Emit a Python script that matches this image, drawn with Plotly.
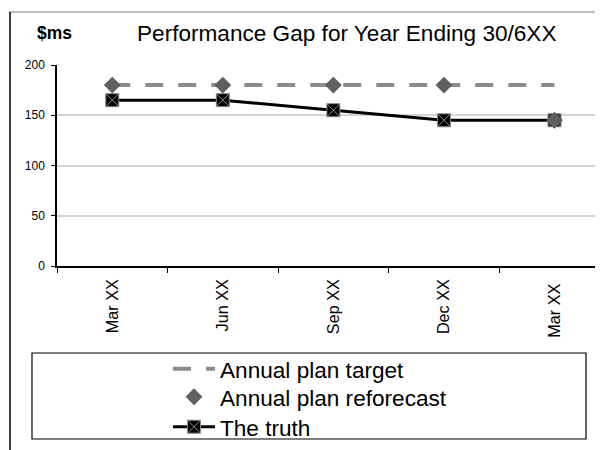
import plotly.graph_objects as go

categories = ["Mar XX", "Jun XX", "Sep XX", "Dec XX", "Mar XX "]
target = [180, 180, 180, 180, 180]
reforecast = [180, 180, 180, 180, 145]
truth = [165, 165, 155, 145, 145]
y_ticks = [0, 50, 100, 150, 200]

FONT = "Liberation Sans, Arial, sans-serif"
xs = list(range(len(categories)))

# page body has an 8px margin: figure is drawn at (8, 8) in the window
OFF = 8
FW, FH = 603 - OFF, 450 - OFF
# plot area in window pixels
L, R, T, B = 57, 603, 65, 266
W, H = R - L, B - T
def px(x):
    return (x - L) / W
def py(y):
    return (B - y) / H

fig = go.Figure()
fig.add_trace(go.Scatter(
    x=xs, y=target, name="Annual plan target", mode="lines",
    line=dict(color="#8c8c8c", width=4, dash="18px,15px"), legend="legend",
))
fig.add_trace(go.Scatter(
    x=xs, y=truth, name="The truth", mode="lines+markers",
    line=dict(color="black", width=3),
    marker=dict(symbol="square-x", size=13, color="black",
                line=dict(color="#8a8a8a", width=1)), legend="legend3",
))
fig.add_trace(go.Scatter(
    x=xs, y=reforecast, name="Annual plan reforecast", mode="markers",
    marker=dict(symbol="diamond", size=13, color="#606060",
                line=dict(width=0)), legend="legend2",
))

LEG_X = 168
def leg(yc):
    return dict(
        x=px(LEG_X), xanchor="left", y=py(yc), yanchor="middle",
        font=dict(size=22.6, family=FONT, color="black"),
        bgcolor="rgba(0,0,0,0)", borderwidth=0, itemwidth=42,
    )

fig.update_layout(
    width=FW, height=FH,
    margin=dict(l=L - OFF, r=FW - (R - OFF), t=T - OFF, b=FH - (B - OFF),
                pad=0, autoexpand=False),
    paper_bgcolor="white", plot_bgcolor="white",
    font=dict(family=FONT, color="black"),
    showlegend=True,
    legend=leg(369), legend2=leg(397), legend3=leg(427),
    xaxis=dict(
        range=[-0.5, (R - 112.5) / 110.5],
        tickvals=xs, ticktext=categories, tickangle=-90,
        ticks="", showgrid=False, zeroline=False,
        showline=True, linecolor="black", linewidth=1.5,
        tickfont=dict(size=16.2, family=FONT, color="black"),
        ticklabelstandoff=5,
        minor=dict(tickvals=[-0.5, 0.5, 1.5, 2.5, 3.5], ticks="outside",
                   ticklen=5, tickcolor="black", tickwidth=1, showgrid=False),
        fixedrange=True,
    ),
    yaxis=dict(
        range=[0, 200], tickvals=y_ticks,
        ticks="outside", ticklen=4, tickcolor="black",
        showgrid=True, gridcolor="#d4d4d4", gridwidth=1.5,
        zeroline=False, showline=True, linecolor="black", linewidth=1.5,
        tickfont=dict(size=12, family=FONT, color="black"),
        ticklabelstandoff=4,
        fixedrange=True,
    ),
    annotations=[
        dict(text="Performance Gap for Year Ending 30/6XX", xref="paper", yref="paper",
             x=px(347), y=py(33), xanchor="center", yanchor="middle", showarrow=False,
             font=dict(size=22.6, family=FONT, color="black")),
        dict(text="<b>$ms</b>", xref="paper", yref="paper",
             x=px(54.5), y=py(33), xanchor="center", yanchor="middle", showarrow=False,
             font=dict(size=17.5, family=FONT, color="black")),
    ],
    shapes=[
        dict(type="line", xref="paper", yref="paper", x0=px(9), x1=px(620),
             y0=py(12), y1=py(12), line=dict(color="#a6a6a6", width=1.5)),
        dict(type="line", xref="paper", yref="paper", x0=px(10), x1=px(10),
             y0=py(12), y1=py(460), line=dict(color="black", width=1.5)),
        dict(type="rect", xref="paper", yref="paper", x0=px(32), x1=px(586),
             y0=py(353), y1=py(439), line=dict(color="black", width=1.2),
             fillcolor="rgba(0,0,0,0)"),
    ],
)

fig.write_html("out.html")
